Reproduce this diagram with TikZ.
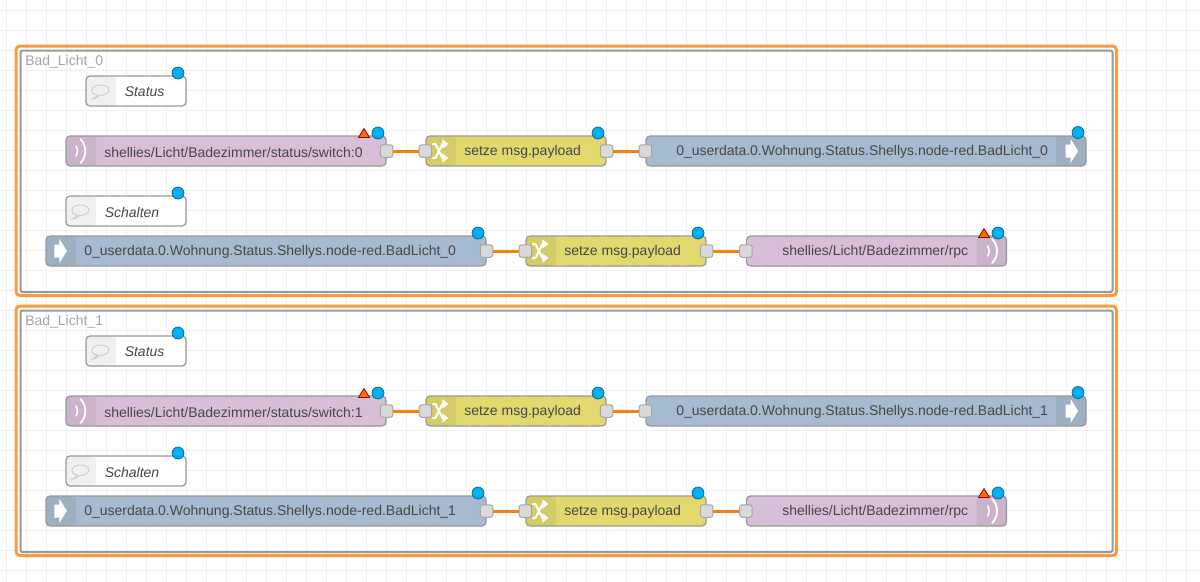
\documentclass[tikz,border=0pt]{standalone}
\usepackage{fontspec}
\setmainfont{Liberation Sans}
\usetikzlibrary{arrows.meta, positioning, calc}
\definecolor{gridColor}{RGB}{240, 240, 240}
\definecolor{groupColor}{RGB}{153, 153, 153}
\definecolor{selectColor}{RGB}{255, 153, 64}
\definecolor{wireColor}{RGB}{255, 127, 14}
\definecolor{mqttColor}{RGB}{216, 191, 216}
\definecolor{changeColor}{RGB}{226, 217, 110}
\definecolor{linkColor}{RGB}{166, 187, 207}
\definecolor{dotColor}{RGB}{0, 176, 245}
\definecolor{dotLine}{RGB}{10, 95, 140}
\def\px{0.75pt}
\tikzset{
    flowbox/.style={draw=groupColor, line width=1.2*\px, rounded corners=4*\px, inner sep=0pt,
        minimum height=30*\px, minimum width=#1*\px},
    sideleft/.style={path picture={\fill[black, opacity=0.06]
        (path picture bounding box.north west) rectangle ++(30*\px,-30*\px);}},
    sideright/.style={path picture={\fill[black, opacity=0.06]
        (path picture bounding box.north east) rectangle ++(-30*\px,-30*\px);}},
    flowlabel/.style={font=\fontsize{10.5pt}{12pt}\selectfont, text=black!72, inner sep=0pt, anchor=west, yshift=-0.75pt},
    flowport/.style={draw=black!35, fill=black!15, line width=1*\px, rounded corners=2.5*\px,
        minimum size=12.5*\px, inner sep=0pt},
    wire/.style={wireColor, line width=3*\px},
    bluedot/.style={circle, draw=dotLine, fill=dotColor, line width=0.7*\px, minimum size=12*\px, inner sep=0pt},
    warntri/.style={draw=red!60!black, fill=orange!85!red, line width=0.8*\px, line join=round},
    pics/waveicon/.style={code={
        \draw[white, line width=1.5*\px, line cap=round] (-4.5,-5) .. controls (-2.5,-2) and (-2.5,2) .. (-4.5,5);
        \draw[white, line width=1.8*\px, line cap=round] (0,-12) .. controls (6.5,-6) and (6.5,6) .. (0,12);
    }},
    pics/arrowicon/.style={code={
        \fill[white] (-6,-6.5) -- (-1,-6.5) -- (-1,-12) -- (6.5,0) -- (-1,12) -- (-1,6.5) -- (-6,6.5) -- cycle;
    }},
    pics/shuffleicon/.style={code={
        \draw[white, line width=2*\px, line join=round, -{Triangle[length=6*\px, width=9*\px]}] (-8,7) -- (-5,7) -- (2,-7) -- (8,-7);
        \draw[white, line width=2*\px, line join=round, -{Triangle[length=6*\px, width=9*\px]}] (-8,-7) -- (-5,-7) -- (2,7) -- (8,7);
    }},
    pics/bubbleicon/.style={code={
        \draw[black!20, line width=0.9*\px] (-3,4) .. controls (-8,3.5) and (-9,1) .. (-8.5,-1) .. controls (-8,-5) and (-3,-6) .. (0,-6)
            .. controls (5,-6) and (8.5,-4) .. (8.5,-1) .. controls (8.5,2) and (4,4.5) .. (-1,4.5) .. controls (-3,7) and (-6,8) .. (-8,8) .. controls (-6,6.5) and (-4,6) .. (-3,4) -- cycle;
    }},
}
\begin{document}
\begin{tikzpicture}[x=0.75pt, y=-0.75pt]
    \useasboundingbox (0,0) rectangle (1200,582);
    \fill[white] (0,0) rectangle (1200,582);
    % Grid
    \foreach \gx in {6.5,26.5,...,1200} {\draw[gridColor, line width=1.2*\px] (\gx,0) -- (\gx,582);}
    \foreach \gy in {10.5,30.5,...,582} {\draw[gridColor, line width=1.2*\px] (0,\gy) -- (1200,\gy);}

    \foreach \g/\dy in {0/0, 1/260} {
    \begin{scope}[shift={(0,\dy)}]
        % Group frames
        \draw[selectColor, line width=3*\px, rounded corners=4*\px] (16,46) rectangle (1116.5,295.5);
        \draw[groupColor, line width=2*\px, rounded corners=2*\px] (20.5,50.5) rectangle (1112.5,292);
        \node[font=\fontsize{10.5pt}{12pt}\selectfont, text=black!35, inner sep=0pt, anchor=west] (group\g) at (25,61.5) {Bad\_Licht\_\g};

        % Comments
        \node[flowbox=100, fill=white, sideleft] (status\g) at (136,91) {};
        \node[flowlabel, font=\fontsize{10.5pt}{12pt}\selectfont\itshape] (status\g txt) at (124.5,91) {Status};
        \node[flowbox=120, fill=white, sideleft] (schalten\g) at (126,211) {};
        \node[flowlabel, font=\fontsize{10.5pt}{12pt}\selectfont\itshape] (schalten\g txt) at (104.5,211) {Schalten};
        \pic at (status\g.west) [xshift=15*\px] {bubbleicon};
        \pic at (schalten\g.west) [xshift=15*\px] {bubbleicon};

        % Upper flow
        \node[flowbox=320, fill=mqttColor, sideleft] (mqttin\g) at (226,151) {};
        \node[flowlabel] (mqttin\g txt) at (104,151) {shellies/Licht/Badezimmer/status/switch:\g};
        \node[flowbox=180, fill=changeColor, sideleft] (setzeA\g) at (516,151) {};
        \node[flowlabel] (setzeA\g txt) at (464,151) {setze msg.payload};
        \node[flowbox=440, fill=linkColor, sideright] (linkout\g) at (866,151) {};
        \node[flowlabel] (linkout\g txt) at (676,151) {0\_userdata.0.Wohnung.Status.Shellys.node-red.BadLicht\_\g};
        \pic at (mqttin\g.west) [xshift=15*\px] {waveicon};
        \pic at (setzeA\g.west) [xshift=15*\px] {shuffleicon};
        \pic at (linkout\g.east) [xshift=-15*\px] {arrowicon};

        % Lower flow
        \node[flowbox=440, fill=linkColor, sideleft] (linkin\g) at (266,251) {};
        \node[flowlabel] (linkin\g txt) at (84,251) {0\_userdata.0.Wohnung.Status.Shellys.node-red.BadLicht\_\g};
        \node[flowbox=180, fill=changeColor, sideleft] (setzeB\g) at (616,251) {};
        \node[flowlabel] (setzeB\g txt) at (564,251) {setze msg.payload};
        \node[flowbox=260, fill=mqttColor, sideright] (mqttout\g) at (876.5,251) {};
        \node[flowlabel] (mqttout\g txt) at (782,251) {shellies/Licht/Badezimmer/rpc};
        \pic at (linkin\g.west) [xshift=15*\px] {arrowicon};
        \pic at (setzeB\g.west) [xshift=15*\px] {shuffleicon};
        \pic at (mqttout\g.east) [xshift=-15*\px] {waveicon};

        % Ports
        \node[flowport] (mqttin\g P) at (mqttin\g.east) {};
        \node[flowport] (setzeA\g I) at (setzeA\g.west) {};
        \node[flowport] (setzeA\g P) at (setzeA\g.east) {};
        \node[flowport] (linkout\g I) at (linkout\g.west) {};
        \node[flowport] (linkin\g P) at (linkin\g.east) {};
        \node[flowport] (setzeB\g I) at (setzeB\g.west) {};
        \node[flowport] (setzeB\g P) at (setzeB\g.east) {};
        \node[flowport] (mqttout\g I) at (mqttout\g.west) {};

        % Wires
        \draw[wire] (mqttin\g P) -- (setzeA\g I);
        \draw[wire] (setzeA\g P) -- (linkout\g I);
        \draw[wire] (linkin\g P) -- (setzeB\g I);
        \draw[wire] (setzeB\g P) -- (mqttout\g I);

        % Badges
        \node[bluedot] (dotA\g) at (178,73) {};
        \node[bluedot] (dotB\g) at (378,133) {};
        \node[bluedot] (dotC\g) at (598,133) {};
        \node[bluedot] (dotD\g) at (1078,132.5) {};
        \node[bluedot] (dotE\g) at (178,193) {};
        \node[bluedot] (dotF\g) at (478,233) {};
        \node[bluedot] (dotG\g) at (698,233) {};
        \node[bluedot] (dotH\g) at (998,233) {};
        \draw[warntri] (358.5,137.5) -- (364,128.5) -- (369.5,137.5) -- cycle;
        \draw[warntri] (978.5,237.5) -- (984,228.5) -- (989.5,237.5) -- cycle;
    \end{scope}
    }
\end{tikzpicture}
\end{document}
